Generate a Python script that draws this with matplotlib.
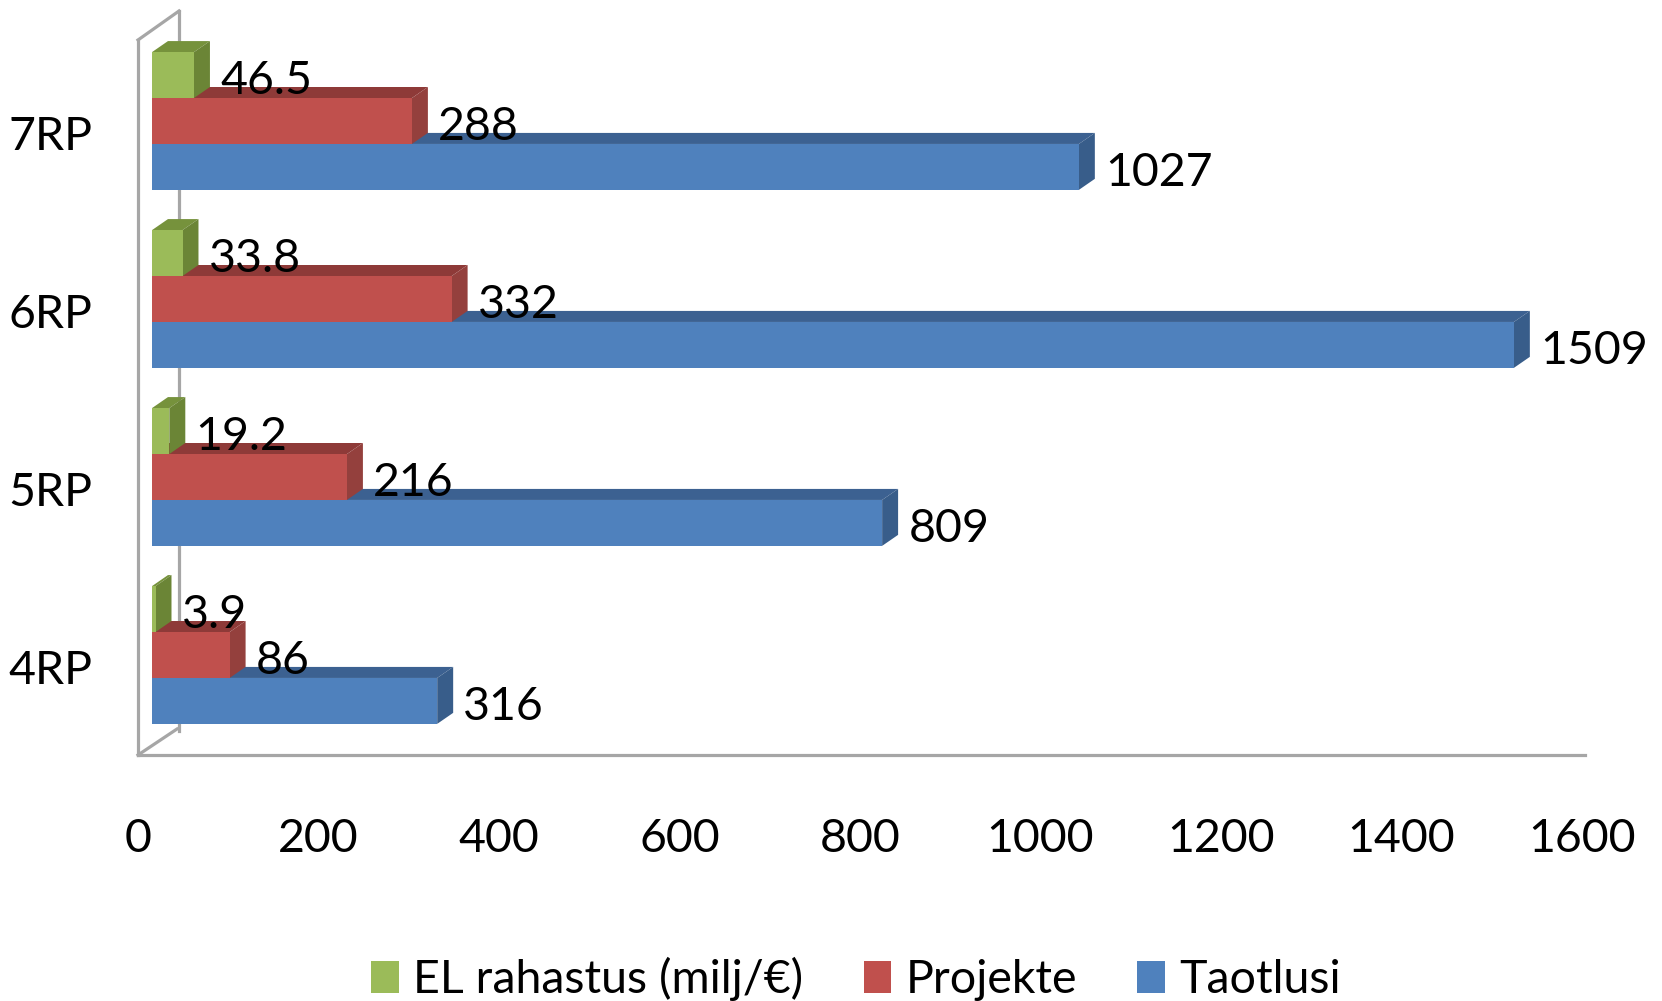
import matplotlib
matplotlib.use("Agg")
import matplotlib.pyplot as plt
from matplotlib.patches import Polygon, Patch
from matplotlib.lines import Line2D
import matplotlib.transforms as mtransforms

categories = ['4RP', '5RP', '6RP', '7RP']
taotlusi = [316, 809, 1509, 1027]
projekte = [86, 216, 332, 288]
el_rahastus = [3.9, 19.2, 33.8, 46.5]
series_names = ['EL rahastus (milj/€)', 'Projekte', 'Taotlusi']
x_ticks = [0, 200, 400, 600, 800, 1000, 1200, 1400, 1600]

plt.rcParams['font.family'] = ['Lato', 'DejaVu Sans']
FS = 33.5

W, H = 1662, 1001
fig = plt.figure(figsize=(W / 100, H / 100), dpi=100)

def fx(px):
    return px / W

def fy(py):
    return 1 - py / H

ax = fig.add_axes([fx(152), fy(755), fx(1596) - fx(152), fy(21) - fy(755)])
ax.set_xlim(0, 1600)
ax.set_ylim(-0.5618, 3.5618)
for s in ax.spines.values():
    s.set_visible(False)
ax.patch.set_alpha(0)

h = 0.258
ddx = 17.7   # depth offset in x data units
ddy = 0.062  # depth offset in y data units

styles = {
    'Taotlusi': ('#4F81BD', '#3C6191', '#385D8A'),
    'Projekte': ('#C0504D', '#8E3A38', '#94403D'),
    'EL': ('#9BBB59', '#76923C', '#6B8536'),
}

series = [
    (taotlusi, -h, styles['Taotlusi']),
    (projekte, 0.0, styles['Projekte']),
    (el_rahastus, h, styles['EL']),
]

z = 2
for ci in range(len(categories)):
    for vals, off, (front, top, side) in series:
        v = vals[ci]
        y0 = ci + off - h / 2
        y1 = ci + off + h / 2
        ax.add_patch(Polygon([(0, y1), (v, y1), (v + ddx, y1 + ddy), (ddx, y1 + ddy)],
                             closed=True, facecolor=top, edgecolor='none', zorder=z))
        ax.add_patch(Polygon([(v, y0), (v + ddx, y0 + ddy), (v + ddx, y1 + ddy), (v, y1)],
                             closed=True, facecolor=side, edgecolor='none', zorder=z))
        ax.barh([ci + off], [v], height=h, left=0, color=front, edgecolor='none', zorder=z + 0.5)
        ax.text(v + 29, ci + off - 0.032, f"{v:g}", fontsize=FS, va='center', ha='left',
                color='black', zorder=20)
        z += 1

ax.set_xticks(x_ticks)
ax.set_xticklabels([str(t) for t in x_ticks], fontsize=FS)
ax.set_yticks([i - 0.07 for i in range(len(categories))])
ax.set_yticklabels(categories, fontsize=FS)
ax.tick_params(axis='both', length=0)
ax.tick_params(axis='x', pad=45)
ax.tick_params(axis='y', pad=43)
shift = mtransforms.ScaledTranslation(-0.14, 0, fig.dpi_scale_trans)
for lab in ax.get_xticklabels():
    lab.set_transform(lab.get_transform() + shift)

gc = '#A6A6A6'
lw = 2.3
segs = [
    [(138, 40), (138, 755)],
    [(138, 755), (1585, 755)],
    [(138, 40), (179, 11)],
    [(179, 11), (179, 731)],
    [(138, 755), (177, 729)],
]
for (xa, ya), (xb, yb) in segs:
    fig.add_artist(Line2D([fx(xa), fx(xb)], [fy(ya), fy(yb)], color=gc, lw=lw,
                          solid_capstyle='projecting', zorder=0))

handles = [Patch(facecolor=styles['EL'][0]), Patch(facecolor=styles['Projekte'][0]),
           Patch(facecolor=styles['Taotlusi'][0])]
fig.legend(handles, series_names, loc='center', bbox_to_anchor=(fx(856), fy(979)),
           ncol=3, frameon=False, fontsize=FS, handlelength=0.6, handleheight=0.7,
           handletextpad=0.3, columnspacing=1.3)

fig.savefig('out.png', dpi=100)
